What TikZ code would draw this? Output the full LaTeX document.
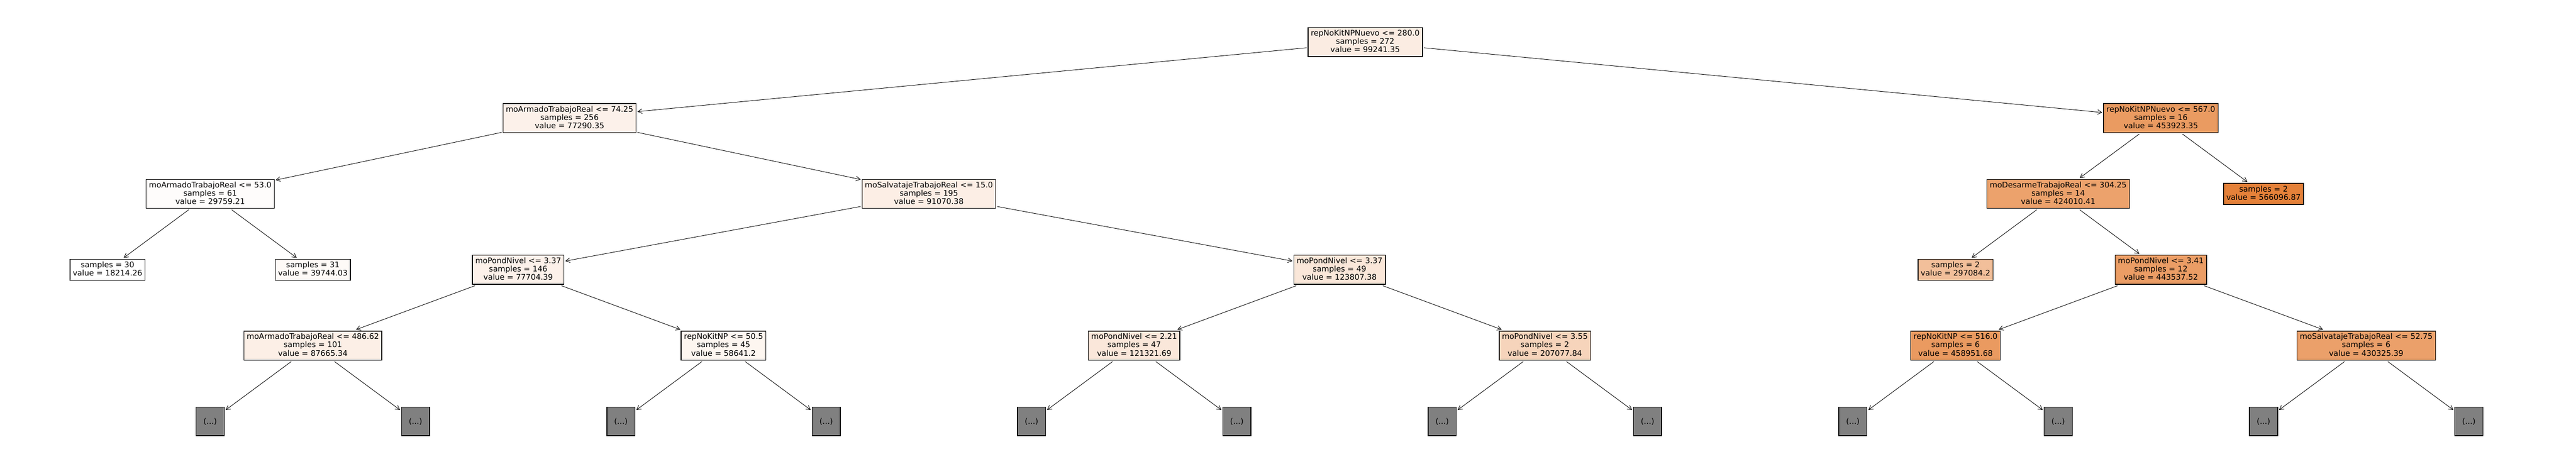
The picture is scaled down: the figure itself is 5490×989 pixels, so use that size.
\documentclass[tikz,border=0pt]{standalone}
\usepackage{fontspec}
\setmainfont{DejaVu Sans}
\usetikzlibrary{arrows.meta}
\newcommand\stt{\rule[-0.24em]{0pt}{1em}}
\definecolor{c0}{RGB}{251,236,226}
\definecolor{c1}{RGB}{252,241,234}
\definecolor{c2}{RGB}{234,155,97}
\definecolor{c3}{RGB}{254,252,251}
\definecolor{c4}{RGB}{252,238,229}
\definecolor{c5}{RGB}{236,162,108}
\definecolor{c6}{RGB}{229,129,57}
\definecolor{c7}{RGB}{255,255,255}
\definecolor{c8}{RGB}{254,250,247}
\definecolor{c9}{RGB}{252,241,234}
\definecolor{c10}{RGB}{250,231,217}
\definecolor{c11}{RGB}{242,191,154}
\definecolor{c12}{RGB}{235,157,101}
\definecolor{c13}{RGB}{252,239,230}
\definecolor{c14}{RGB}{253,246,240}
\definecolor{c15}{RGB}{250,231,218}
\definecolor{c16}{RGB}{246,212,187}
\definecolor{c17}{RGB}{234,154,96}
\definecolor{c18}{RGB}{235,160,106}
\definecolor{greyfill}{RGB}{128,128,128}
\begin{document}
\begin{tikzpicture}[x=0.5pt,y=-0.5pt,
  tbase/.style={draw=black,line width=0.8pt,inner xsep=3pt,inner ysep=0pt,outer sep=1.5pt,align=center,
    font=\fontsize{8.25pt}{8.85pt}\selectfont},
  tnode/.style={tbase,minimum height=31pt},
  tleaf/.style={tbase,minimum height=22.5pt},
  tgrey/.style={tbase,fill=greyfill,minimum width=30pt,minimum height=30.5pt,inner xsep=0pt},
  edge/.style={line width=0.5pt,-{Straight Barb[length=4.5pt,width=5pt,line width=0.5pt]}}]
\useasboundingbox (0,0) rectangle (5490,989);
\def\ux{218.8}
\def\uy{161.7}
% level 0
\node[tnode,fill=c0] (root) at ({448+\ux*11.25},{90+\uy*0}) {\stt repNoKitNPNuevo <= 280.0\\samples = 272\\value = 99241.35\stt};
% level 1
\node[tnode,fill=c1] (n2) at ({448+\ux*3.5},{90+\uy*1}) {\stt moArmadoTrabajoReal <= 74.25\\samples = 256\\value = 77290.35\stt};
\node[tnode,fill=c2] (r1) at ({448+\ux*19},{90+\uy*1}) {\stt repNoKitNPNuevo <= 567.0\\samples = 16\\value = 453923.35\stt};
% level 2
\node[tnode,fill=c3] (n3) at ({448+\ux*0},{90+\uy*2}) {\stt moArmadoTrabajoReal <= 53.0\\samples = 61\\value = 29759.21\stt};
\node[tnode,fill=c4] (s15) at ({448+\ux*7},{90+\uy*2}) {\stt moSalvatajeTrabajoReal <= 15.0\\samples = 195\\value = 91070.38\stt};
\node[tnode,fill=c5] (des) at ({448+\ux*18},{90+\uy*2}) {\stt moDesarmeTrabajoReal <= 304.25\\samples = 14\\value = 424010.41\stt};
\node[tleaf,fill=c6] (l566) at ({448+\ux*20},{90+\uy*2}) {\stt samples = 2\\value = 566096.87\stt};
% level 3
\node[tleaf,fill=c7] (l30) at ({448+\ux*(-1)},{90+\uy*3}) {\stt samples = 30\\value = 18214.26\stt};
\node[tleaf,fill=c8] (l31) at ({448+\ux*1},{90+\uy*3}) {\stt samples = 31\\value = 39744.03\stt};
\node[tnode,fill=c9] (p146) at ({448+\ux*3},{90+\uy*3}) {\stt moPondNivel <= 3.37\\samples = 146\\value = 77704.39\stt};
\node[tnode,fill=c10] (p49) at ({448+\ux*11},{90+\uy*3}) {\stt moPondNivel <= 3.37\\samples = 49\\value = 123807.38\stt};
\node[tleaf,fill=c11] (l297) at ({448+\ux*17},{90+\uy*3}) {\stt samples = 2\\value = 297084.2\stt};
\node[tnode,fill=c12] (p341) at ({448+\ux*19},{90+\uy*3}) {\stt moPondNivel <= 3.41\\samples = 12\\value = 443537.52\stt};
% level 4
\node[tnode,fill=c13] (a486) at ({448+\ux*1},{90+\uy*4}) {\stt moArmadoTrabajoReal <= 486.62\\samples = 101\\value = 87665.34\stt};
\node[tnode,fill=c14] (k505) at ({448+\ux*5},{90+\uy*4}) {\stt repNoKitNP <= 50.5\\samples = 45\\value = 58641.2\stt};
\node[tnode,fill=c15] (p221) at ({448+\ux*9},{90+\uy*4}) {\stt moPondNivel <= 2.21\\samples = 47\\value = 121321.69\stt};
\node[tnode,fill=c16] (p355) at ({448+\ux*13},{90+\uy*4}) {\stt moPondNivel <= 3.55\\samples = 2\\value = 207077.84\stt};
\node[tnode,fill=c17] (k516) at ({448+\ux*17},{90+\uy*4}) {\stt repNoKitNP <= 516.0\\samples = 6\\value = 458951.68\stt};
\node[tnode,fill=c18] (s5275) at ({448+\ux*21},{90+\uy*4}) {\stt moSalvatajeTrabajoReal <= 52.75\\samples = 6\\value = 430325.39\stt};
% level 5
\foreach \i in {0,2,...,22} {
  \node[tgrey] (g\i) at ({448+\ux*\i},{90+\uy*5}) {(...)};
}
% edges
\draw[edge] (root) -- (n2);
\draw[edge] (root) -- (r1);
\draw[edge] (n2) -- (n3);
\draw[edge] (n2) -- (s15);
\draw[edge] (n3) -- (l30);
\draw[edge] (n3) -- (l31);
\draw[edge] (s15) -- (p146);
\draw[edge] (s15) -- (p49);
\draw[edge] (p146) -- (a486);
\draw[edge] (p146) -- (k505);
\draw[edge] (p49) -- (p221);
\draw[edge] (p49) -- (p355);
\draw[edge] (a486) -- (g0);
\draw[edge] (a486) -- (g2);
\draw[edge] (k505) -- (g4);
\draw[edge] (k505) -- (g6);
\draw[edge] (p221) -- (g8);
\draw[edge] (p221) -- (g10);
\draw[edge] (p355) -- (g12);
\draw[edge] (p355) -- (g14);
\draw[edge] (r1) -- (des);
\draw[edge] (r1) -- (l566);
\draw[edge] (des) -- (l297);
\draw[edge] (des) -- (p341);
\draw[edge] (p341) -- (k516);
\draw[edge] (p341) -- (s5275);
\draw[edge] (k516) -- (g16);
\draw[edge] (k516) -- (g18);
\draw[edge] (s5275) -- (g20);
\draw[edge] (s5275) -- (g22);
\end{tikzpicture}
\end{document}
